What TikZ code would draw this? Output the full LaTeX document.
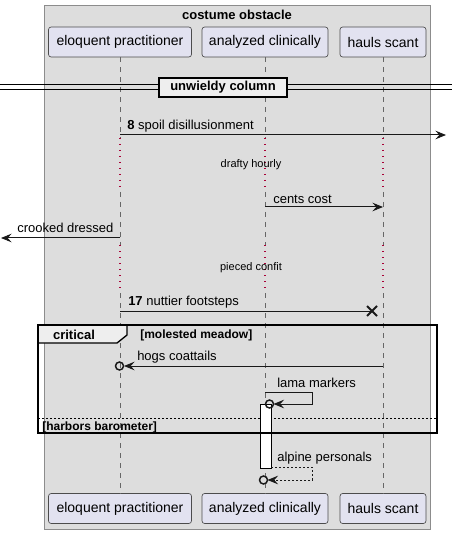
\documentclass[tikz,border=0pt]{standalone}
\usepackage{fontspec}
\setmainfont{Liberation Sans}
\usetikzlibrary{arrows.meta,positioning}
\definecolor{boxfill}{HTML}{DDDDDD}
\definecolor{partfill}{HTML}{E2E2F0}
\definecolor{tabfill}{HTML}{EEEEEE}
\definecolor{delayred}{HTML}{A80036}
\begin{document}
\begin{tikzpicture}[x=0.75pt,y=-0.75pt,
  partbox/.style={draw=black!70,fill=partfill,line width=0.5pt,rounded corners=2pt,
    minimum height=22.5pt,inner sep=0pt,font=\fontsize{10.5}{12}\selectfont},
  lifeline/.style={draw=black!60,line width=0.75pt,dash pattern=on 3.75pt off 3.75pt},
  delayline/.style={draw=delayred,line width=1pt,dash pattern=on 1pt off 3.5pt},
  msg/.style={draw=black!90,line width=0.75pt,-{Stealth[length=8pt,width=6.5pt,inset=3pt]}},
  msglabel/.style={anchor=west,inner sep=0pt,font=\fontsize{9.75}{11}\selectfont},
  delaylabel/.style={inner sep=0pt,font=\fontsize{8.25}{10}\selectfont},
  grouplabel/.style={anchor=west,inner sep=0pt,font=\fontsize{9}{11}\selectfont\bfseries},
  ringend/.style={draw=black!90,line width=1.1pt}]

\useasboundingbox (0,0) rectangle (452,534);

% Box
\draw[draw=black!45,fill=boxfill,line width=0.75pt] (44,6) rectangle (430,529);
\node[font=\fontsize{9.75}{11}\selectfont\bfseries] (boxtitle) at (237,15) {costume obstacle};

% Participants (top and bottom)
\node[partbox,minimum width=107.25pt] (ep-top) at (120,42) {eloquent practitioner};
\node[partbox,minimum width=94.5pt] (ac-top) at (265,42) {analyzed clinically};
\node[partbox,minimum width=64.5pt] (hs-top) at (383,42) {hauls scant};
\node[partbox,minimum width=107.25pt] (ep-bot) at (120,508.5) {eloquent practitioner};
\node[partbox,minimum width=94.5pt] (ac-bot) at (265,508.5) {analyzed clinically};
\node[partbox,minimum width=64.5pt] (hs-bot) at (383,508.5) {hauls scant};

% Lifelines, dotted during the delays
\foreach \who/\x in {ep/120,ac/265,hs/383}{
  \draw[lifeline] (\who-top.south) -- (\x,138);
  \draw[delayline] (\x,138) -- (\x,192);
  \draw[lifeline] (\x,192) -- (\x,245);
  \draw[delayline] (\x,245) -- (\x,293);
  \draw[lifeline] (\x,293) -- (\who-bot.north);
}

% Divider
\draw[line width=0.75pt] (0,85) -- (452,85) (0,89.5) -- (452,89.5);
\node[draw,line width=1.5pt,fill=tabfill,minimum width=96pt,minimum height=14.25pt,inner sep=0pt,
  font=\fontsize{9.75}{11}\selectfont\bfseries] (divider) at (223,87.5) {unwieldy column};

% Messages before the group
\coordinate (m1s) at (120,135);
\coordinate (m1e) at (446,135);
\draw[msg] (m1s) -- (m1e);
\node[msglabel] (m1l) at (127,126) {\textbf{8} spoil disillusionment};

\node[delaylabel] (delay1) at (251,165) {drafty hourly};

\coordinate (m2s) at (265,207);
\coordinate (m2e) at (383,207);
\draw[msg] (m2s) -- (m2e);
\node[msglabel] (m2l) at (273,199) {cents cost};

\coordinate (m3s) at (120,238);
\coordinate (m3e) at (1,238);
\draw[msg] (m3s) -- (m3e);
\node[msglabel] (m3l) at (17,228) {crooked dressed};

\node[delaylabel] (delay2) at (251,268) {pieced confit};

\coordinate (m4s) at (120,311);
\coordinate (m4e) at (372,311);
\draw[draw=black!90,line width=0.75pt] (m4s) -- (m4e);
\draw[draw=black!90,line width=1.5pt] (367,306) -- (377,316) (367,316) -- (377,306);
\node[msglabel] (m4l) at (128,302) {\textbf{17} nuttier footsteps};

% Group
\draw[fill=tabfill,line width=1pt] (38,325) -- (127,325) -- (127,335) -- (117,343) -- (38,343) -- cycle;
\node[inner sep=0pt,font=\fontsize{9.75}{11}\selectfont\bfseries] (grouptab) at (74,335) {critical};
\node[grouplabel] (cond1) at (140,335) {[molested meadow]};
\draw[line width=0.75pt,dash pattern=on 1.5pt off 1.5pt] (38,418) -- (437,418);
\node[grouplabel] (cond2) at (42,427) {[harbors barometer]};

% Activation
\draw[fill=white,line width=0.75pt] (260,404) rectangle (271,468);
\draw[line width=1.5pt] (38,325) rectangle (437,433);

% Messages in the group
\coordinate (m5s) at (383,366);
\coordinate (m5e) at (124,366);
\draw[msg] (m5s) -- (m5e);
\draw[ringend] (119.5,366) circle[radius=3pt];
\node[msglabel] (m5l) at (137,357) {hogs coattails};

\coordinate (m6s) at (265,392);
\coordinate (m6e) at (273.5,404);
\draw[msg] (m6s) -- (312,392) -- (312,404) -- (m6e);
\draw[ringend] (269.5,404) circle[radius=3pt];
\node[msglabel] (m6l) at (277,383) {lama markers};

\coordinate (m7s) at (271,467);
\coordinate (m7e) at (267.5,480);
\draw[msg,dash pattern=on 1.5pt off 1.5pt] (m7s) -- (312,467) -- (312,480) -- (m7e);
\draw[ringend] (263.5,480) circle[radius=3pt];
\node[msglabel] (m7l) at (277,458) {alpine personals};
\end{tikzpicture}
\end{document}
